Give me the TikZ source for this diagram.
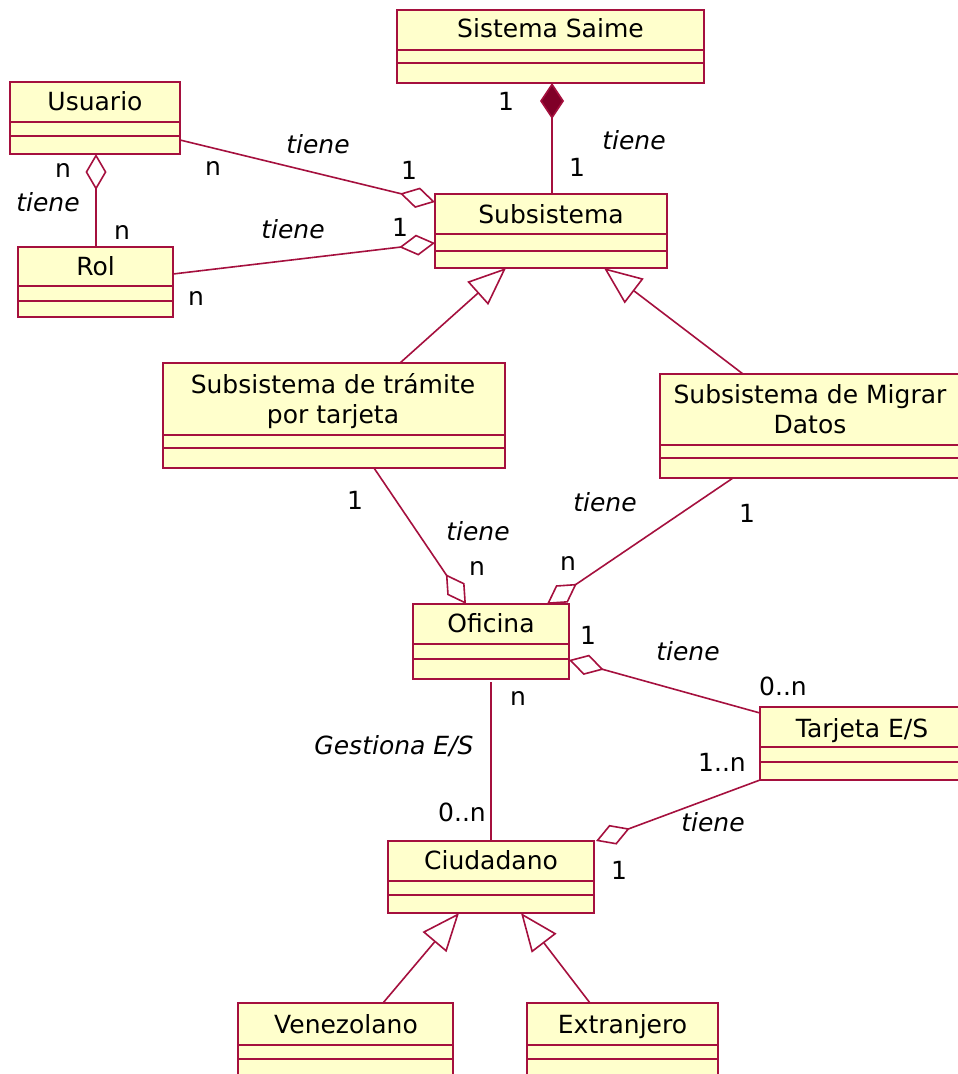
\documentclass[tikz,border=0pt]{standalone}
\usepackage{fontspec}
\setmainfont{DejaVu Sans}
\usetikzlibrary{arrows.meta,calc,fit}

\definecolor{umlline}{RGB}{165,16,62}
\definecolor{umlfill}{RGB}{255,255,204}
\definecolor{umldark}{RGB}{128,0,40}

\tikzset{
  classbox/.style={draw=umlline, fill=umlfill, line width=2pt, inner sep=0pt, outer sep=0pt},
  divider/.style={draw=umlline, line width=2pt},
  clstitle/.style={anchor=base, inner sep=0pt, font=\fontsize{25}{30}\selectfont},
  lbl/.style={anchor=base, inner sep=0pt, font=\fontsize{25}{30}\selectfont},
  rolelbl/.style={anchor=base, inner sep=0pt, font=\fontsize{25}{30}\selectfont\itshape},
  assoc/.style={draw=umlline, line width=1.6pt},
  aggrend/.style={assoc, -{Diamond[open, length=36pt, width=21pt]}},
  aggrstart/.style={assoc, {Diamond[open, length=36pt, width=21pt]}-},
  compstart/.style={assoc, {Diamond[length=36pt, width=24pt, fill=umldark]}-},
  genend/.style={assoc, -{Triangle[open, length=38pt, width=31pt]}},
}

% class box: name, x1, y1, x2, y2, first divider, second divider
\newcommand\umlclass[7]{%
  \node[classbox, fit={(#2,#3) (#4,#5)}] (#1) {};
  \draw[divider] (#2,#6) -- (#4,#6) (#2,#7) -- (#4,#7);
}

\begin{document}
\begin{tikzpicture}[x=1pt, y=-1pt]
\fill[white] (0,0) rectangle (958,1074);
\useasboundingbox (0,0) rectangle (958,1074);
\clip (0,0) rectangle (958,1074);

% classes
\umlclass{saime}{397}{10}{704}{83}{50}{63}
\node[clstitle] (saime-t) at (550.5,37) {Sistema Saime};

\umlclass{usr}{10}{82}{180}{154}{122}{136}
\node[clstitle] (usr-t) at (95,110) {Usuario};

\umlclass{rol}{18}{247}{173}{317}{286}{301}
\node[clstitle] (rol-t) at (95.5,275) {Rol};

\umlclass{sub}{435}{194}{667}{268}{234}{251}
\node[clstitle] (sub-t) at (551,223) {Subsistema};

\umlclass{tram}{163}{363}{505}{468}{435}{448}
\node[clstitle] (tram-t) at (333,393) {\begin{tabular}[t]{@{}c@{}}Subsistema de trámite\\por tarjeta\end{tabular}};

\umlclass{migr}{660}{374}{960}{478}{445}{458}
\node[clstitle] (migr-t) at (810,403) {\begin{tabular}[t]{@{}c@{}}Subsistema de Migrar\\Datos\end{tabular}};

\umlclass{ofi}{413}{604}{569}{679}{644}{659}
\node[clstitle] (ofi-t) at (491,632) {Oficina};

\umlclass{tarj}{760}{707}{964}{780}{747}{762}
\node[clstitle] (tarj-t) at (862,737) {Tarjeta E/S};

\umlclass{ciud}{388}{841}{594}{913}{881}{895}
\node[clstitle] (ciud-t) at (491,869) {Ciudadano};

\umlclass{vene}{238}{1003}{453}{1076}{1045}{1059}
\node[clstitle] (vene-t) at (346,1033) {Venezolano};

\umlclass{extr}{527}{1003}{718}{1076}{1045}{1059}
\node[clstitle] (extr-t) at (622.5,1033) {Extranjero};

% relationships
\draw[compstart] ($(saime.south west)+(155,0)$) -- ($(sub.north west)+(117,0)$);
\draw[aggrend] ($(usr.north east)+(0,58)$) -- ($(sub.north west)+(0,8)$);
\draw[aggrend] ($(rol.north east)+(0,27)$) -- ($(sub.north west)+(0,49)$);
\draw[aggrstart] ($(usr.south west)+(86,0)$) -- ($(rol.north west)+(78,0)$);
\draw[genend] ($(tram.north west)+(237,0)$) -- ($(sub.south west)+(71,0)$);
\draw[genend] ($(migr.north west)+(83,0)$) -- ($(sub.south west)+(169,0)$);
\draw[aggrend] ($(tram.south west)+(211,0)$) -- ($(ofi.north west)+(53,0)$);
\draw[aggrend] ($(migr.south west)+(73,0)$) -- ($(ofi.north west)+(134,0)$);
\draw[aggrend] ($(tarj.north west)+(0,6)$) -- ($(ofi.north east)+(0,56)$);
\draw[assoc] ($(ofi.south west)+(78,3)$) -- ($(ciud.north west)+(103,0)$);
\draw[aggrend] (tarj.south west) -- ($(ciud.north east)+(2,0)$);
\draw[genend] ($(vene.north west)+(145,0)$) -- ($(ciud.south west)+(71,0)$);
\draw[genend] ($(extr.north west)+(63,0)$) -- ($(ciud.south west)+(133,0)$);

% multiplicities and role names
\node[lbl] (m1) at (506,110) {1};
\node[rolelbl] (r1) at (634,149) {tiene};
\node[lbl] (m2) at (577,176) {1};

\node[rolelbl] (r2) at (318,153) {tiene};
\node[lbl] (m3) at (213,175) {n};
\node[lbl] (m4) at (409,179) {1};

\node[rolelbl] (r3) at (293,238) {tiene};
\node[lbl] (m5) at (400,236) {1};
\node[lbl] (m6) at (196,305) {n};

\node[lbl] (m7) at (63,177) {n};
\node[rolelbl] (r4) at (48,211) {tiene};
\node[lbl] (m8) at (122,239) {n};

\node[lbl] (m9) at (355,509) {1};
\node[rolelbl] (r5) at (478,540) {tiene};
\node[lbl] (m10) at (477,575) {n};

\node[rolelbl] (r6) at (605,511) {tiene};
\node[lbl] (m11) at (747,522) {1};
\node[lbl] (m12) at (568,570) {n};

\node[lbl] (m13) at (588,644) {1};
\node[rolelbl] (r7) at (688,660) {tiene};
\node[lbl] (m14) at (783,695) {0..n};

\node[lbl] (m15) at (518,705) {n};
\node[rolelbl] (r8) at (394,754) {Gestiona E/S};
\node[lbl] (m16) at (462,821) {0..n};

\node[lbl] (m17) at (722,771) {1..n};
\node[rolelbl] (r9) at (713,831) {tiene};
\node[lbl] (m18) at (619,879) {1};
\end{tikzpicture}
\end{document}
